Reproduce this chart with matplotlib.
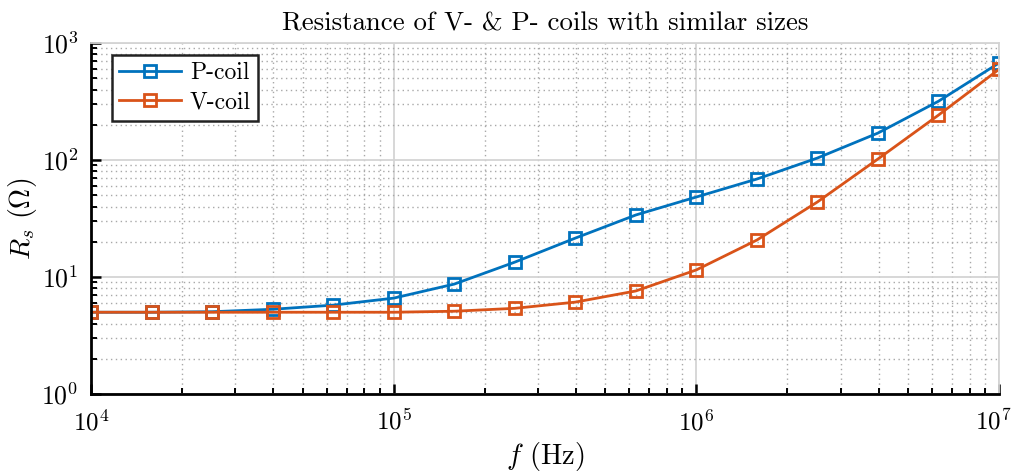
import matplotlib

matplotlib.use("Agg")

import matplotlib.pyplot as plt  # noqa: E402
from matplotlib.transforms import ScaledTranslation  # noqa: E402

# frequency points (Hz), 5 per decade
freq = [1e4, 1.585e4, 2.512e4, 3.981e4, 6.310e4,
        1e5, 1.585e5, 2.512e5, 3.981e5, 6.310e5,
        1e6, 1.585e6, 2.512e6, 3.981e6, 6.310e6, 1e7]

# series resistance (ohm)
p_coil = [5.0, 5.0, 5.05, 5.3, 5.75, 6.6, 8.7, 13.4, 21.5, 33.9,
          48.3, 68.8, 104, 170, 318, 675]
v_coil = [5.0, 5.0, 5.0, 5.0, 5.0, 5.0, 5.1, 5.4, 6.1, 7.6,
          11.5, 20.7, 43.8, 102, 242, 596]

x_ticks = [1e4, 1e5, 1e6, 1e7]

plt.rcParams["font.family"] = "serif"
plt.rcParams["font.serif"] = ["cmr10", "DejaVu Serif"]
plt.rcParams["mathtext.fontset"] = "cm"
plt.rcParams["axes.formatter.use_mathtext"] = True
plt.rcParams["axes.unicode_minus"] = False

fig = plt.figure(figsize=(10.15, 4.73), dpi=100)
ax = fig.add_axes([0.0897, 0.167, 0.8945, 0.742])

ax.plot(freq, p_coil, color="#0072BD", lw=2.0, marker="s", ms=8.5,
        mfc="none", mew=2.0, label="P-coil")
ax.plot(freq, v_coil, color="#D95319", lw=2.0, marker="s", ms=8.5,
        mfc="none", mew=2.0, label="V-coil")

ax.set_xscale("log")
ax.set_yscale("log")
ax.set_xlim(1e4, 1e7)
ax.set_ylim(1, 1e3)
ax.set_xticks(x_ticks)

ax.grid(True, which="major", color="#d4d4d4", lw=1.3, ls="-")
ax.grid(True, which="minor", color="#a8a8a8", lw=1.0, ls=(0, (1, 2.5)))
ax.set_axisbelow(True)

for side in ("top", "right"):
    ax.spines[side].set_color("#d4d4d4")
    ax.spines[side].set_linewidth(1.3)
for side in ("left", "bottom"):
    ax.spines[side].set_linewidth(2.0)

ax.tick_params(which="major", direction="in", length=7, width=1.8,
               labelsize=18.5, pad=9)
ax.tick_params(axis="x", which="major", labelsize=18, pad=11)
ax.tick_params(which="minor", direction="in", length=4.5, width=1.4)

# nudge the last x label so it stays inside the figure
last = ax.xaxis.get_major_ticks()[-1].label1
last.set_transform(last.get_transform() + ScaledTranslation(-4 / 72, 0, fig.dpi_scale_trans))

ax.set_title("Resistance of V- & P- coils with similar sizes", fontsize=19.3, pad=9)
ax.set_xlabel(r"$f$ (Hz)", fontsize=20.5, labelpad=3)
ax.set_ylabel(r"$R_s$ ($\Omega$)", fontsize=20, labelpad=2)

leg = ax.legend(loc="upper left", bbox_to_anchor=(21 / 908, 1 - 12 / 351),
                fontsize=17, fancybox=False, framealpha=1,
                edgecolor="#222222", borderaxespad=0, handlelength=2.6,
                labelspacing=0.3, borderpad=0.3, handletextpad=0.4)
leg.get_frame().set_linewidth(1.8)

fig.savefig("out.png", dpi=100)
